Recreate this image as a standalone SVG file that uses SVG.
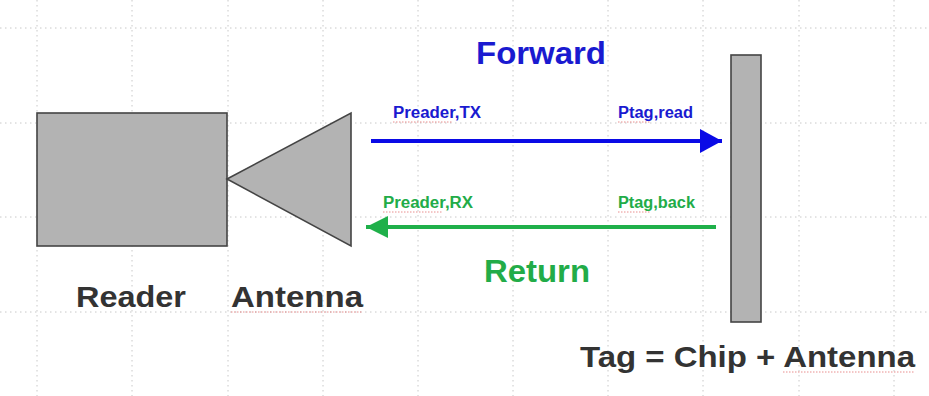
<svg xmlns="http://www.w3.org/2000/svg" width="929" height="396" viewBox="0 0 929 396">
<style>
.grid line{stroke:#c8c8c8;stroke-width:1;stroke-dasharray:1.5 3.5}
.shape{fill:#b3b3b3;stroke:#444;stroke-width:1.6}
.t{font-family:"Liberation Sans",Arial,sans-serif;font-weight:bold}
.dark{fill:#333}
.blue{fill:#1a1ad0}
.green{fill:#22ac48}
.sq{fill:none;stroke:#e06060;stroke-width:1;stroke-dasharray:1.5 1.5;opacity:0.7}
</style>
<defs>
<marker id="ab" markerUnits="userSpaceOnUse" markerWidth="24" markerHeight="24" refX="22" refY="12" orient="auto"><path d="M0,0 L22,12 L0,24 Z" fill="#0a0ae6"/></marker>
<marker id="ag" markerUnits="userSpaceOnUse" markerWidth="24" markerHeight="24" refX="22" refY="11" orient="auto"><path d="M0,0 L22,11 L0,22 Z" fill="#1fb04a"/></marker>
</defs>
<rect width="929" height="396" fill="#fff"/>
<g class="grid">
<line x1="0" y1="28" x2="929" y2="28"/>
<line x1="0" y1="123" x2="929" y2="123"/>
<line x1="0" y1="217" x2="929" y2="217"/>
<line x1="0" y1="312" x2="929" y2="312"/>
<line x1="37" y1="0" x2="37" y2="396"/>
<line x1="132" y1="0" x2="132" y2="396"/>
<line x1="228" y1="0" x2="228" y2="396"/>
<line x1="323" y1="0" x2="323" y2="396"/>
<line x1="418" y1="0" x2="418" y2="396"/>
<line x1="513" y1="0" x2="513" y2="396"/>
<line x1="608" y1="0" x2="608" y2="396"/>
<line x1="703" y1="0" x2="703" y2="396"/>
<line x1="799" y1="0" x2="799" y2="396"/>
<line x1="894" y1="0" x2="894" y2="396"/>
</g>
<g id="reader">
<rect class="shape" x="37" y="113" width="190" height="133"/>
<text class="t dark" x="76" y="307" font-size="29" textLength="110" lengthAdjust="spacingAndGlyphs">Reader</text>
</g>
<g id="antenna">
<polygon class="shape" points="227,179 351,113 351,246"/>
<text class="t dark" x="231" y="307" font-size="29" textLength="132" lengthAdjust="spacingAndGlyphs">Antenna</text>
<path class="sq" d="M231,312 L363,312"/>
</g>
<g id="tag">
<rect class="shape" x="731" y="55" width="30" height="267"/>
<text class="t dark" x="580" y="367" font-size="30" textLength="335" lengthAdjust="spacingAndGlyphs">Tag = Chip + Antenna</text>
<path class="sq" d="M783,372 L915,372"/>
</g>
<g id="connectors">
<line x1="371" y1="141" x2="722" y2="141" stroke="#0a0ae6" stroke-width="4" marker-end="url(#ab)"/>
<line x1="716" y1="227" x2="366" y2="227" stroke="#1fb04a" stroke-width="4" marker-end="url(#ag)"/>
</g>
<g id="labels">
<text class="t blue" x="476" y="64" font-size="32" textLength="130" lengthAdjust="spacingAndGlyphs" fill="#0000e0">Forward</text>
<text class="t green" x="484" y="282" font-size="32" textLength="106" lengthAdjust="spacingAndGlyphs">Return</text>
<text class="t blue" x="393" y="118" font-size="16" textLength="88" lengthAdjust="spacingAndGlyphs">Preader,TX</text>
<text class="t blue" x="618" y="118" font-size="16" textLength="75" lengthAdjust="spacingAndGlyphs">Ptag,read</text>
<text class="t green" x="383" y="208" font-size="16" textLength="90" lengthAdjust="spacingAndGlyphs">Preader,RX</text>
<text class="t green" x="618" y="208" font-size="16" textLength="77" lengthAdjust="spacingAndGlyphs">Ptag,back</text>
<path class="sq" d="M393,122 L452,122 M618,122 L650,122 M383,212 L443,212 M618,212 L650,212"/>
</g>
</svg>
